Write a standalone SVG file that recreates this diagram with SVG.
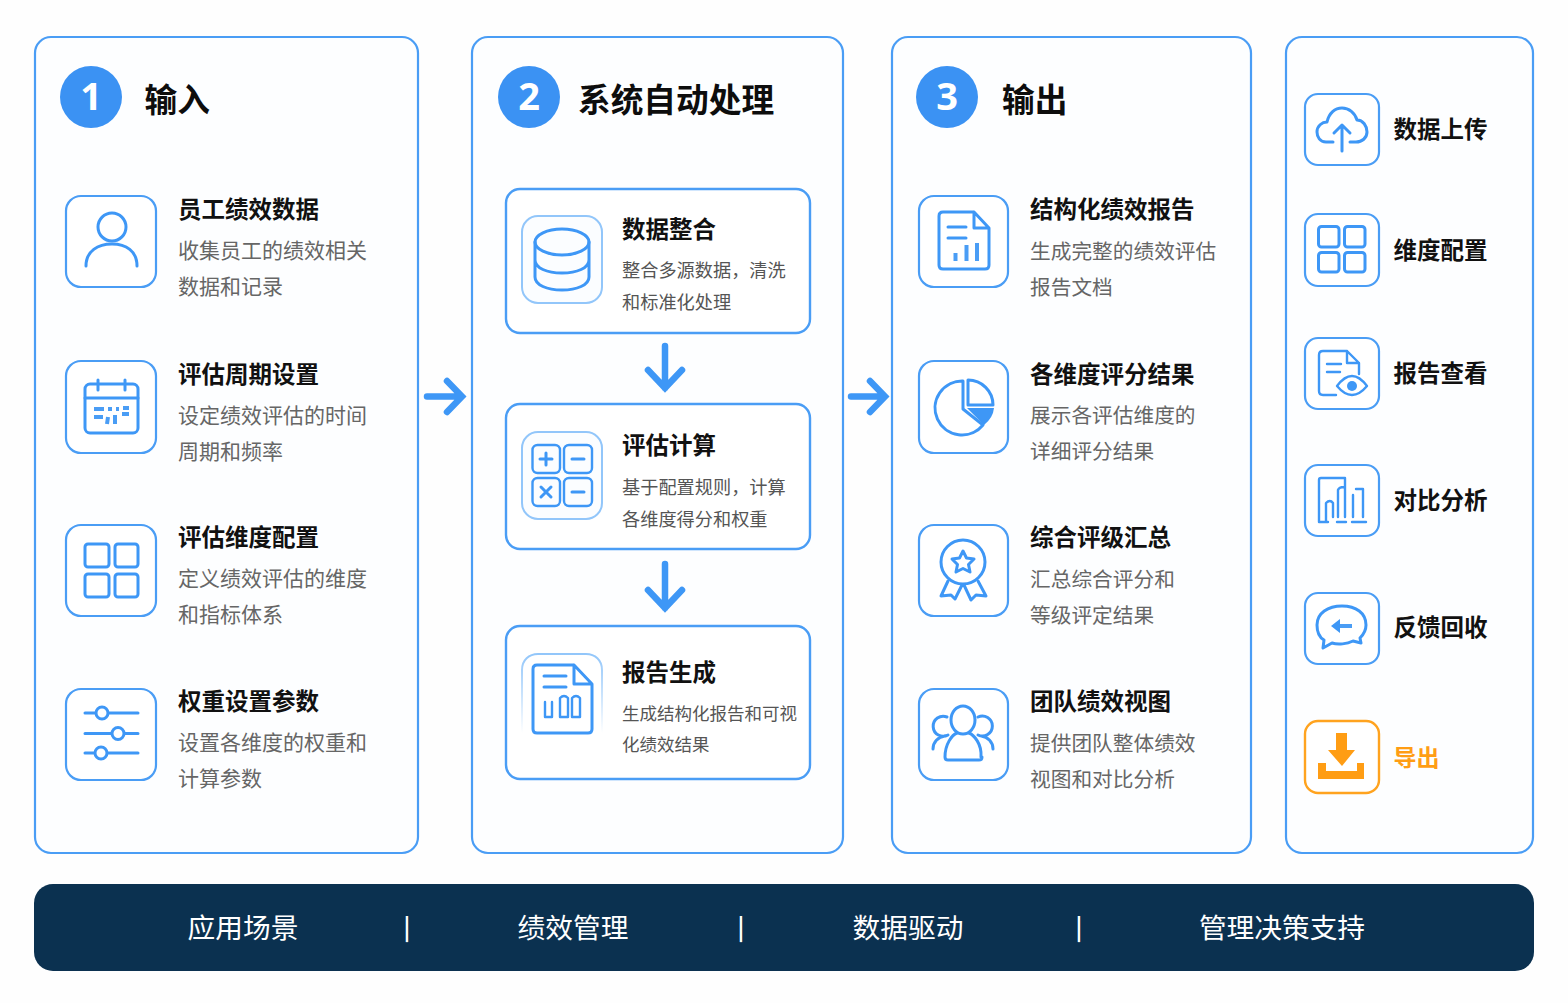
<svg xmlns="http://www.w3.org/2000/svg" width="1568" height="1003" viewBox="0 0 1568 1003">
<style>
text{font-family:"Noto Sans CJK SC","Noto Sans",sans-serif}
.panel{fill:#fdfeff;stroke:#4a9df5;stroke-width:2.2}
.card{fill:#fff;stroke:#4a9df5;stroke-width:2.4}
.box{fill:#fff;stroke:#4a9df5;stroke-width:2.2}
.lbox{fill:#fbfdff;stroke:#92c6fa;stroke-width:2}
.ic{fill:none;stroke:#3e97f6;stroke-width:3;stroke-linecap:round;stroke-linejoin:round}
.ict{fill:none;stroke:#3e97f6;stroke-width:2.4;stroke-linecap:round;stroke-linejoin:round}
.thick{fill:none;stroke:#4a9df5;stroke-width:4;stroke-linecap:butt}
.f{fill:#3e97f6}
.badge{fill:#3b92f3}
.num{fill:#fff;font-size:38px;font-weight:700;text-anchor:middle;font-family:"Noto Sans","Noto Sans CJK SC",sans-serif}
.h{fill:#0d0d0d;font-size:32.700px;font-weight:700}
.t{fill:#111;font-size:23.500px;font-weight:700}
.d{fill:#666;font-size:21px}
.d2{fill:#666;font-size:20.700px}
.s{fill:#555;font-size:18.200px}
.bt{fill:#fff;font-size:27.700px;text-anchor:middle}
.sep{fill:#fff;font-size:23px;font-weight:700;text-anchor:middle}
.arr{fill:none;stroke:#3e97f6;stroke-width:6.500;stroke-linecap:round;stroke-linejoin:miter}
</style>
<defs>
<linearGradient id="fade" x1="0" y1="0" x2="0" y2="1"><stop offset="0" stop-color="#92c6fa"/><stop offset="1" stop-color="#92c6fa" stop-opacity="0"/></linearGradient>
</defs>
<rect width="1568" height="1003" fill="#fefefe"/>
<g id="panels">
<rect class="panel" x="35" y="37" width="383" height="816" rx="16"/>
<rect class="panel" x="472" y="37" width="371" height="816" rx="16"/>
<rect class="panel" x="892" y="37" width="359" height="816" rx="16"/>
<rect class="panel" x="1286" y="37" width="247" height="816" rx="16"/>
</g>
<g id="header-1"><circle class="badge" cx="91" cy="97" r="31"/><text class="num" x="91" y="110">1</text><text class="h" x="144.500" y="112">输入</text></g>
<g id="header-2"><circle class="badge" cx="529" cy="97" r="31"/><text class="num" x="529" y="110">2</text><text class="h" x="578" y="112">系统自动处理</text></g>
<g id="header-3"><circle class="badge" cx="947" cy="97" r="31"/><text class="num" x="947" y="110">3</text><text class="h" x="1002" y="112">输出</text></g>

<g id="input-employee"><rect class="box" x="66" y="196" width="90" height="91" rx="15"/>
<circle class="ic" cx="112" cy="227" r="14"/><path class="ic" d="M86,266C86,251 98,244 112,244C126,244 137,251 137,266"/>
<text class="t" x="178" y="217.500">员工绩效数据</text><text class="d" x="178" y="258">收集员工的绩效相关</text><text class="d" x="178" y="294">数据和记录</text></g>
<g id="input-cycle"><rect class="box" x="66" y="361" width="90" height="92" rx="15"/>
<rect class="ic" x="85" y="384" width="53" height="49" rx="5"/><path class="ic" d="M85,398H138M98,380V390M125,380V390"/>
<path class="thick" d="M94,409H104M108,409H112M116,409H119M123,408H129M94,417H103M108,417L107,424M115,415V424M122,414H129"/>
<text class="t" x="178" y="382.500">评估周期设置</text><text class="d" x="178" y="422.500">设定绩效评估的时间</text><text class="d" x="178" y="458.500">周期和频率</text></g>
<g id="input-dimension"><rect class="box" x="66" y="525" width="90" height="91" rx="15"/>
<rect class="ic" x="85" y="544" width="24" height="23" rx="3"/><rect class="ic" x="115" y="544" width="23" height="23" rx="3"/><rect class="ic" x="85" y="574" width="24" height="23" rx="3"/><rect class="ic" x="115" y="574" width="23" height="23" rx="3"/>
<text class="t" x="178" y="546">评估维度配置</text><text class="d" x="178" y="586">定义绩效评估的维度</text><text class="d" x="178" y="622">和指标体系</text></g>
<g id="input-weight"><rect class="box" x="66" y="689" width="90" height="91" rx="15"/>
<path class="ic" d="M85,713H138M85,733.500H138M85,753H138"/><circle cx="102" cy="713" r="6" fill="#fff" stroke="#3e97f6" stroke-width="3"/><circle cx="118" cy="733.500" r="6" fill="#fff" stroke="#3e97f6" stroke-width="3"/><circle cx="101" cy="753" r="6" fill="#fff" stroke="#3e97f6" stroke-width="3"/>
<text class="t" x="178" y="709.500">权重设置参数</text><text class="d" x="178" y="750">设置各维度的权重和</text><text class="d" x="178" y="786">计算参数</text></g>

<g id="proc-integrate"><rect class="card" x="506" y="189" width="304" height="144" rx="14"/><rect class="lbox" x="522" y="216" width="80" height="87" rx="16"/>
<ellipse class="ic" cx="562" cy="242" rx="27" ry="13"/><path class="ic" d="M535,242V277C535,285 547,290 562,290C577,290 589,285 589,277V242M535,260C535,268 547,273 562,273C577,273 589,268 589,260"/>
<text class="t" x="622" y="238">数据整合</text><text class="s" x="622" y="276.500">整合多源数据，清洗</text><text class="s" x="622" y="308.500">和标准化处理</text></g>
<g id="proc-calc"><rect class="card" x="506" y="404" width="304" height="145" rx="14"/><rect class="lbox" x="522" y="432" width="80" height="87" rx="16"/>
<rect class="ict" x="532.500" y="445" width="27.500" height="28" rx="5"/><rect class="ict" x="564" y="445" width="28" height="28" rx="5"/><rect class="ict" x="532.500" y="478" width="27.500" height="28" rx="5"/><rect class="ict" x="564" y="478" width="28" height="28" rx="5"/>
<path class="ic" d="M546,453V465M540,459H552M572,459H584M572,492H584M541,487L551,497M551,487L541,497"/>
<text class="t" x="622" y="454">评估计算</text><text class="s" x="622" y="493.500">基于配置规则，计算</text><text class="s" x="622" y="525.500">各维度得分和权重</text></g>
<g id="proc-report"><rect class="card" x="506" y="626" width="304" height="153" rx="14"/><path d="M522,733V670C522,660 529,654 538,654H586C595,654 602,660 602,670V733" fill="none" stroke="url(#fade)" stroke-width="2"/>
<path class="ic" d="M574,665H537Q533,665 533,669V729Q533,733 537,733H588Q592,733 592,729V684L574,665V684H592M544,676H566M544,687H566"/>
<path class="ict" d="M545,702V717H552V702M560,717V698Q564,694 568,698V717H560M572,717V698Q576,694 580,698V717H572"/>
<text class="t" x="622" y="681">报告生成</text><text class="s" x="622" y="719.500" style="font-size:17.500px">生成结构化报告和可视</text><text class="s" x="622" y="751" style="font-size:17.500px">化绩效结果</text></g>

<g id="output-report"><rect class="box" x="919" y="196" width="89" height="91" rx="15"/>
<path class="ic" d="M974,212H943Q939,212 939,216V265Q939,269 943,269H985Q989,269 989,265V228L974,212V228H989M948,227H966M948,238H966"/>
<path class="thick" d="M955.500,261V253M966.500,261V245M977,261V243"/>
<text class="t" x="1030" y="217.500">结构化绩效报告</text><text class="d2" x="1030" y="258.500">生成完整的绩效评估</text><text class="d2" x="1030" y="294.500">报告文档</text></g>
<g id="output-dimension"><rect class="box" x="919" y="361" width="89" height="92" rx="15"/>
<path class="ic" d="M963,381V409L983,425A27,27 0 1 1 963,381Z"/><path class="ic" d="M968,380V405H993A25,25 0 0 0 968,380Z"/><path class="f" d="M967,408H994Q993,418 984,425Z"/>
<text class="t" x="1030" y="382.500">各维度评分结果</text><text class="d2" x="1030" y="423">展示各评估维度的</text><text class="d2" x="1030" y="459">详细评分结果</text></g>
<g id="output-rating"><rect class="box" x="919" y="525" width="89" height="91" rx="15"/>
<circle class="ic" cx="963" cy="562" r="22"/><path class="ic" d="M963,551L966.500,558L974,559L968.500,564.500L970,572L963,568.500L956,572L957.500,564.500L952,559L959.500,558Z"/>
<path class="ic" d="M948,581L941,596L951,595L955,599L962,585M978,581L986,596L976,595L971,600L964,585"/>
<text class="t" x="1030" y="546">综合评级汇总</text><text class="d2" x="1030" y="586.500">汇总综合评分和</text><text class="d2" x="1030" y="622.500">等级评定结果</text></g>
<g id="output-team"><rect class="box" x="919" y="689" width="89" height="91" rx="15"/>
<ellipse class="ic" cx="963" cy="720" rx="12" ry="14"/><path class="ic" d="M945,757C945,744 952,735 957,733M981,757C982,744 974,735 969,733M945,757Q945,760 948,760H979Q982,760 982,757"/>
<path class="ic" d="M948,735A10,10 0 1 1 947,717M978,717A10,10 0 1 1 978,735M933,749C933,742 938,737 945,736M993,749C993,742 988,737 981,736"/>
<text class="t" x="1030" y="709.500">团队绩效视图</text><text class="d2" x="1030" y="750.500">提供团队整体绩效</text><text class="d2" x="1030" y="786.500">视图和对比分析</text></g>

<g id="act-upload"><rect class="box" x="1305" y="94" width="74" height="71" rx="13"/>
<path class="ic" d="M1333,142H1326C1320,142 1317,137 1317,132C1317,126 1322,122 1327,122C1329,113 1335,108 1342,108C1349,108 1355,113 1357,120C1363,120 1367,126 1367,132C1367,138 1362,142 1356,142H1350"/><path class="ic" d="M1342,151V125M1334,133L1342,125L1350,133"/>
<text class="t" x="1393.500" y="137.500">数据上传</text></g>
<g id="act-dimension"><rect class="box" x="1305" y="214" width="74" height="72" rx="13"/>
<rect class="ic" x="1318.500" y="226.500" width="20.500" height="20.500" rx="3"/><rect class="ic" x="1344.500" y="226.500" width="20.500" height="20.500" rx="3"/><rect class="ic" x="1318.500" y="252.500" width="20.500" height="19.500" rx="3"/><rect class="ic" x="1344.500" y="252.500" width="20.500" height="19.500" rx="3"/>
<text class="t" x="1393.500" y="258.500">维度配置</text></g>
<g id="act-view"><rect class="box" x="1305" y="338" width="74" height="71" rx="13"/>
<path class="ict" d="M1336,395H1323Q1319,395 1319,391V355Q1319,351 1323,351H1347L1359,363V374M1347,351V363H1359M1327,364H1341M1327,372H1340"/>
<path class="ict" d="M1337,386Q1352,366 1367,386Q1352,404 1337,386Z"/><circle class="f" cx="1352" cy="386" r="5"/>
<text class="t" x="1393.500" y="381.500">报告查看</text></g>
<g id="act-compare"><rect class="box" x="1305" y="465" width="74" height="71" rx="13"/>
<path class="ict" d="M1319,522V480Q1319,478 1321,478H1345V490M1319,522H1328M1337,522H1346M1352,522H1366M1326,522V503Q1330,499 1333,503V517M1338,517V490Q1339,487 1344,487Q1345,487 1345,490V517M1353,517V495M1356,489H1363V517"/>
<text class="t" x="1393.500" y="508.500">对比分析</text></g>
<g id="act-feedback"><rect class="box" x="1305" y="593" width="74" height="71" rx="13"/>
<path class="ic" d="M1324,640C1317,636 1317,629 1317,625C1317,613 1328,606 1342,606C1356,606 1366,613 1366,625C1366,631 1363,635 1360,638L1361,643L1353,641C1347,644 1338,645 1332,643L1323,648Z"/>
<path class="thick" d="M1335,626H1352"/><path class="f" d="M1331,626L1340,619V633Z"/>
<text class="t" x="1393.500" y="635.500">反馈回收</text></g>
<g id="act-export"><rect x="1305" y="721" width="74" height="72" rx="13" fill="#fff" stroke="#ffa31f" stroke-width="2.400"/>
<path fill="#ff9d14" d="M1336,733H1347V750H1355L1342,766L1328,750H1336ZM1318,763H1326V771H1357V763H1364V779H1318Z"/>
<text x="1393.500" y="765.500" style="fill:#ff9d14;font-size:23px;font-weight:700">导出</text></g>

<g id="connectors">
<path class="arr" d="M427,396.500H461M447,381L462,396.500L447,412"/>
<path class="arr" d="M851,396.500H884M870,381L885,396.500L870,412"/>
<path class="arr" d="M665,346V388M648,370L665,388L682,370"/>
<path class="arr" d="M665,564V608M648,590L665,608L682,590"/>
</g>
<g id="scenario-bar"><rect x="34" y="884" width="1500" height="87" rx="19" fill="#0b3150"/>
<text class="bt" x="243" y="937.500">应用场景</text><text class="sep" x="407" y="935.500">|</text><text class="bt" x="573" y="937.500">绩效管理</text><text class="sep" x="741" y="935.500">|</text><text class="bt" x="908" y="937.500">数据驱动</text><text class="sep" x="1079" y="935.500">|</text><text class="bt" x="1282" y="937.500">管理决策支持</text></g>
</svg>
